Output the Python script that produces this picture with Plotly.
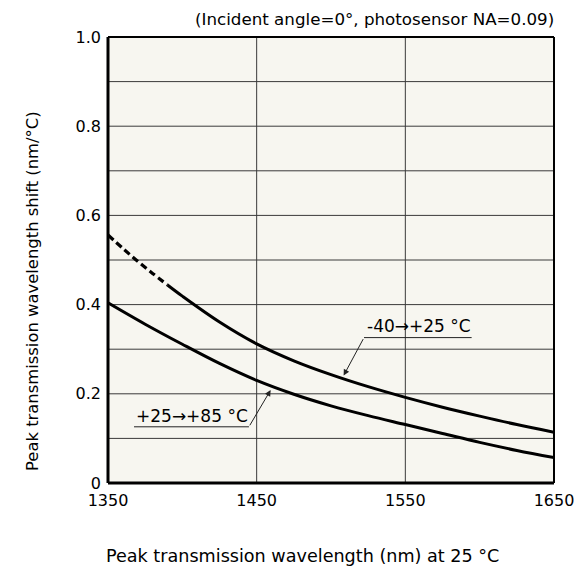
import plotly.graph_objects as go

# ---- data ----
x_upper_dash = [1350, 1360, 1370, 1380, 1390]
y_upper_dash = [0.556, 0.526, 0.497, 0.470, 0.444]

x_upper = [1390, 1400, 1425, 1450, 1475, 1500, 1525, 1550, 1575, 1600, 1625, 1650]
y_upper = [0.444, 0.419, 0.361, 0.312, 0.274, 0.243, 0.216, 0.192, 0.170, 0.150, 0.131, 0.114]

x_lower = [1350, 1375, 1400, 1425, 1450, 1475, 1500, 1525, 1550, 1575, 1600, 1625, 1650]
y_lower = [0.404, 0.356, 0.311, 0.268, 0.230, 0.199, 0.173, 0.151, 0.131, 0.111, 0.091, 0.073, 0.057]

x_ticks = [1350, 1450, 1550, 1650]
y_ticks = [0, 0.2, 0.4, 0.6, 0.8, 1.0]
y_tick_text = ["0", "0.2", "0.4", "0.6", "0.8", "1.0"]

label_upper = "-40→+25 °C"
label_lower = "+25→+85 °C"
condition_text = "(Incident angle=0°, photosensor NA=0.09)"
x_title = "Peak transmission wavelength (nm) at 25 °C"
y_title = "Peak transmission wavelength shift (nm/°C)"

FONT = "DejaVu Sans"
GRID = "#3a3a3a"

fig = go.Figure()
fig.add_trace(go.Scatter(x=x_upper_dash, y=y_upper_dash, mode="lines",
                         line=dict(color="black", width=3.2, dash="7px,4px", shape="spline"),
                         showlegend=False, hoverinfo="skip"))
fig.add_trace(go.Scatter(x=x_upper, y=y_upper, mode="lines",
                         line=dict(color="black", width=3, shape="spline"),
                         showlegend=False))
fig.add_trace(go.Scatter(x=x_lower, y=y_lower, mode="lines",
                         line=dict(color="black", width=3, shape="spline"),
                         showlegend=False))

shapes = []
for i in range(1, 10):
    shapes.append(dict(type="line", xref="paper", yref="y", x0=0, x1=1, y0=i / 10, y1=i / 10,
                       line=dict(color=GRID, width=1), layer="below"))
for xv in x_ticks[1:-1]:
    shapes.append(dict(type="line", xref="x", yref="paper", x0=xv, x1=xv, y0=0, y1=1,
                       line=dict(color=GRID, width=1), layer="below"))
# frame
shapes.append(dict(type="line", xref="paper", yref="paper", x0=0, x1=0, y0=0, y1=1,
                   line=dict(color="black", width=3)))
shapes.append(dict(type="line", xref="paper", yref="paper", x0=0, x1=1, y0=0, y1=0,
                   line=dict(color="black", width=3)))
shapes.append(dict(type="line", xref="paper", yref="paper", x0=0, x1=1, y0=1, y1=1,
                   line=dict(color="black", width=2)))
shapes.append(dict(type="line", xref="paper", yref="paper", x0=1, x1=1, y0=0, y1=1,
                   line=dict(color="black", width=2)))
# label underlines
shapes.append(dict(type="line", xref="x", yref="y", x0=1522.2, x1=1594.6, y0=0.326, y1=0.326,
                   line=dict(color="#222", width=1)))
shapes.append(dict(type="line", xref="x", yref="y", x0=1367.5, x1=1444.8, y0=0.126, y1=0.126,
                   line=dict(color="#222", width=1)))

annotations = [
    dict(x=1508.5, y=0.241, ax=1522.2, ay=0.326, xref="x", yref="y", axref="x", ayref="y",
         text="", showarrow=True, arrowhead=2, arrowsize=1.2, arrowwidth=1, arrowcolor="#222"),
    dict(x=1459.4, y=0.2085, ax=1444.8, ay=0.126, xref="x", yref="y", axref="x", ayref="y",
         text="", showarrow=True, arrowhead=2, arrowsize=1.2, arrowwidth=1, arrowcolor="#222"),
    dict(x=1523, y=0.326, xref="x", yref="y", text=label_upper, showarrow=False,
         xanchor="left", yanchor="bottom", font=dict(family=FONT, size=17, color="black")),
    dict(x=1367.5, y=0.124, xref="x", yref="y", text=label_lower, showarrow=False,
         xanchor="left", yanchor="bottom", font=dict(family=FONT, size=17, color="black")),
    dict(x=556 / 574, y=1 - 19 / 567, xref="paper", yref="paper", text=condition_text,
         showarrow=False, xanchor="right", yanchor="middle",
         font=dict(family=FONT, size=16.7, color="black")),
    dict(x=302 / 574, y=1 - 556 / 567, xref="paper", yref="paper", text=x_title,
         showarrow=False, xanchor="center", yanchor="middle",
         font=dict(family=FONT, size=17.6, color="black")),
    dict(x=32 / 574, y=1 - 291 / 567, xref="paper", yref="paper", text=y_title,
         showarrow=False, xanchor="center", yanchor="middle", textangle=-90,
         font=dict(family=FONT, size=16.4, color="black")),
]

# paper coords above were given as page fractions; convert to plot-area fractions
L, R, T, B = 108, 20, 37, 84
W, H = 574, 567
pw, ph = W - L - R, H - T - B
for a in annotations:
    if a.get("xref") == "paper":
        px = a["x"] * W
        py = (1 - a["y"]) * H
        a["x"] = (px - L) / pw
        a["y"] = 1 - (py - T) / ph

fig.update_layout(
    width=W, height=H,
    margin=dict(l=L, r=R, t=T, b=B, autoexpand=False),
    paper_bgcolor="white",
    plot_bgcolor="#f7f6f0",
    font=dict(family=FONT, size=16, color="black"),
    shapes=shapes,
    annotations=annotations,
    xaxis=dict(range=[1350, 1650], tickvals=x_ticks, ticktext=[str(v) for v in x_ticks],
               showgrid=False, zeroline=False, showline=False, ticks="",
               ticklabelstandoff=6, ticklabeloverflow="allow", automargin=False,
               tickfont=dict(family=FONT, size=16)),
    yaxis=dict(range=[0, 1], tickvals=y_ticks, ticktext=y_tick_text,
               showgrid=False, zeroline=False, showline=False, ticks="",
               ticklabelstandoff=6, ticklabeloverflow="allow", automargin=False,
               tickfont=dict(family=FONT, size=16)),
)

fig.write_html("out.html", config={"displayModeBar": False},
               post_script="document.body.style.margin='0';")
